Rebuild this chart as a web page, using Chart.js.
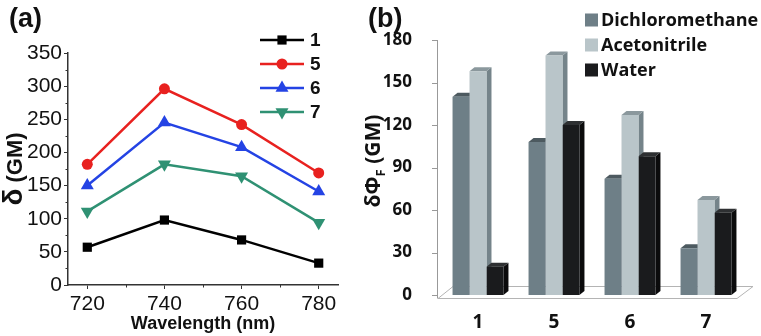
<!DOCTYPE html>
<html>
<head>
<meta charset="utf-8">
<script src="https://cdn.jsdelivr.net/npm/chart.js@4.4.1/dist/chart.umd.min.js"></script>
<style>
  body { margin: 0; background: #fff; }
  .panel { position: absolute; top: 0; height: 336px; }
  #wrapA { left: 0; width: 360px; }
  #wrapB { left: 360px; width: 401px; }
</style>
</head>
<body>
<div class="panel" id="wrapA"><canvas id="twoPhoton"></canvas></div>
<div class="panel" id="wrapB"><canvas id="actionCross"></canvas></div>
<script>
// (a) two-photon cross section vs wavelength
const wavelengths = [720, 740, 760, 780];
const delta1 = [57, 98, 68, 33];
const delta5 = [182, 296, 242, 169];
const delta6 = [150, 245, 208, 141];
const delta7 = [111, 182, 164, 94];
const seriesNames = ['1', '5', '6', '7'];

// (b) action cross section per solvent
const compounds = ['1', '5', '6', '7'];
const dichloromethane = [140, 108, 82, 33];
const acetonitrile = [158, 169, 127, 67];
const water = [20, 120, 98, 58];
const yTicksB = [0, 30, 60, 90, 120, 150, 180];

const arial = 'Arial, "Liberation Sans", sans-serif';
const sansB = '"Open Sans", "DejaVu Sans", sans-serif';

Chart.defaults.animation = false;
Chart.defaults.font.family = arial;
Chart.defaults.color = '#111';

// ---------- panel (a) ----------
const panelA = {
    id: 'panelA',
    afterDraw(chart) {
        const { ctx, chartArea: area, scales } = chart;
        ctx.save();

        // minor ticks
        ctx.strokeStyle = '#333';
        ctx.lineWidth = 1;
        ctx.beginPath();
        for (let v = 25; v < 350; v += 50) {
            const py = Math.round(scales.y.getPixelForValue(v)) + 0.5;
            ctx.moveTo(area.left - 2.5, py);
            ctx.lineTo(area.left, py);
        }
        for (let v = 730; v < 780; v += 20) {
            const px = Math.round(scales.x.getPixelForValue(v)) + 0.5;
            ctx.moveTo(px, area.bottom);
            ctx.lineTo(px, area.bottom + 2.5);
        }
        ctx.stroke();

        // legend: line + marker + label
        const rows = [40, 64, 88, 112];
        chart.data.datasets.forEach((ds, i) => {
            const y = rows[i];
            ctx.strokeStyle = ds.borderColor;
            ctx.lineWidth = 2.5;
            ctx.beginPath();
            ctx.moveTo(260, y);
            ctx.lineTo(304, y);
            ctx.stroke();
            ctx.fillStyle = ds.borderColor;
            Chart.helpers.drawPoint(ctx, {
                pointStyle: ds.pointStyle, radius: ds.pointRadius,
                rotation: ds.pointRotation || 0, borderWidth: 0
            }, 282, y);
            ctx.fillStyle = '#111';
            ctx.font = 'bold 19px ' + arial;
            ctx.textBaseline = 'middle';
            ctx.textAlign = 'left';
            ctx.fillText(ds.label, 310, y + 1);
        });

        // x title
        ctx.fillStyle = '#111';
        ctx.font = 'bold 18px ' + arial;
        ctx.textAlign = 'center';
        ctx.textBaseline = 'middle';
        ctx.fillText('Wavelength (nm)', (area.left + area.right) / 2, 324);

        // panel letter
        ctx.textAlign = 'left';
        ctx.font = 'bold 27px ' + arial;
        ctx.textBaseline = 'alphabetic';
        ctx.fillText('(a)', 9, 27);

        // y title: delta (GM)
        ctx.translate(22, 169);
        ctx.rotate(-Math.PI / 2);
        ctx.font = 'bold 28px ' + arial;
        const wd = ctx.measureText('\u03b4').width;
        ctx.font = 'bold 22px ' + arial;
        const wr = ctx.measureText(' (GM)').width;
        const sx = -(wd + wr) / 2;
        ctx.font = 'bold 28px ' + arial;
        ctx.fillText('\u03b4', sx, 0);
        ctx.font = 'bold 22px ' + arial;
        ctx.fillText(' (GM)', sx + wd, 0);
        ctx.restore();
    }
};

new Chart(document.getElementById('twoPhoton'), {
    type: 'line',
    data: {
        datasets: [
            { label: seriesNames[0], data: wavelengths.map((w, i) => ({ x: w, y: delta1[i] })),
              borderColor: '#000000', pointStyle: 'rect', pointRadius: 6.5 },
            { label: seriesNames[1], data: wavelengths.map((w, i) => ({ x: w, y: delta5[i] })),
              borderColor: '#e8211f', pointStyle: 'circle', pointRadius: 5.5 },
            { label: seriesNames[2], data: wavelengths.map((w, i) => ({ x: w, y: delta6[i] })),
              borderColor: '#2443e4', pointStyle: 'triangle', pointRadius: 7.5 },
            { label: seriesNames[3], data: wavelengths.map((w, i) => ({ x: w, y: delta7[i] })),
              borderColor: '#2f9173', pointStyle: 'triangle', pointRadius: 7.5, pointRotation: 180 }
        ].map(ds => ({ ...ds, borderWidth: 2.5, tension: 0, pointBackgroundColor: ds.borderColor,
                       pointBorderWidth: 0, pointHoverRadius: ds.pointRadius }))
    },
    options: {
        responsive: true,
        maintainAspectRatio: false,
        layout: { padding: { top: 53, right: 22, left: 0, bottom: 0 } },
        scales: {
            x: {
                type: 'linear', min: 715, max: 785,
                afterBuildTicks: s => { s.ticks = wavelengths.map(v => ({ value: v })); },
                afterFit: s => { s.height = 51; },
                grid: { drawOnChartArea: false, tickLength: 4, color: '#333', lineWidth: 1 },
                border: { color: '#333', width: 1.5 },
                ticks: { font: { size: 21 }, padding: 3, color: '#111' }
            },
            y: {
                min: 0, max: 350,
                ticks: { stepSize: 50, font: { size: 21 }, padding: 2, color: '#111' },
                afterFit: s => { s.width = 68; },
                grid: { drawOnChartArea: false, tickLength: 4, color: '#333', lineWidth: 1 },
                border: { color: '#333', width: 1.5 }
            }
        },
        plugins: { legend: { display: false }, tooltip: { enabled: false } }
    },
    plugins: [panelA]
});

// ---------- panel (b) ----------
const depthX = 5, depthY = 4;

function quad(ctx, pts) {
    ctx.beginPath();
    ctx.moveTo(pts[0], pts[1]);
    for (let k = 2; k < pts.length; k += 2) ctx.lineTo(pts[k], pts[k + 1]);
    ctx.closePath();
    ctx.fill();
}

const panelB = {
    id: 'panelB',
    beforeDatasetsDraw(chart) {
        const { ctx, chartArea: area, scales: { y } } = chart;
        const y0 = y.getPixelForValue(0);
        const axisX = area.left - 3;
        ctx.save();

        // floor
        ctx.fillStyle = '#fff';
        ctx.strokeStyle = '#b4b4b4';
        ctx.lineWidth = 1;
        ctx.beginPath();
        ctx.moveTo(axisX + 1, y0 + 3.5);
        ctx.lineTo(area.right - 7, y0 + 3.5);
        ctx.lineTo(area.right + 9, y0 - 8.5);
        ctx.lineTo(axisX + 16, y0 - 8.5);
        ctx.closePath();
        ctx.fill();
        ctx.stroke();

        // y axis line and ticks
        ctx.strokeStyle = '#999';
        ctx.beginPath();
        ctx.moveTo(axisX + 0.5, y.getPixelForValue(180));
        ctx.lineTo(axisX + 0.5, y0 + 3.5);
        y.ticks.forEach(t => {
            const py = Math.round(y.getPixelForValue(t.value)) + 0.5;
            ctx.moveTo(axisX - 5, py);
            ctx.lineTo(axisX + 0.5, py);
        });
        ctx.stroke();

        // side and top faces of the bars
        const metas = chart.getSortedVisibleDatasetMetas();
        compounds.forEach((c, i) => {
            metas.forEach(meta => {
                const bar = meta.data[i];
                const ds = chart.data.datasets[meta.index];
                const x0 = bar.x - bar.width / 2, x1 = bar.x + bar.width / 2;
                ctx.fillStyle = ds.sideColor;
                quad(ctx, [x1, bar.y, x1 + depthX, bar.y - depthY, x1 + depthX, bar.base - depthY, x1, bar.base]);
                ctx.fillStyle = ds.topColor;
                quad(ctx, [x0, bar.y, x1, bar.y, x1 + depthX, bar.y - depthY, x0 + depthX, bar.y - depthY]);
            });
        });
        ctx.restore();
    },
    afterDraw(chart) {
        const { ctx } = chart;
        ctx.save();

        // legend
        const rows = [20, 45, 70];
        chart.data.datasets.forEach((ds, i) => {
            ctx.fillStyle = ds.backgroundColor;
            ctx.fillRect(225, rows[i] - 6.5, 13, 13);
            ctx.fillStyle = '#111';
            ctx.font = 'bold 18px ' + sansB;
            ctx.textBaseline = 'middle';
            ctx.textAlign = 'left';
            ctx.fillText(ds.label, 241, rows[i] + 1);
        });

        // panel letter
        ctx.font = 'bold 27px ' + arial;
        ctx.textBaseline = 'alphabetic';
        ctx.fillText('(b)', 8, 27);

        // y title: delta Phi_F (GM)
        ctx.translate(20, 161);
        ctx.rotate(-Math.PI / 2);
        const main = 'bold 21px ' + sansB, sub = 'bold 13px ' + sansB;
        ctx.font = main;
        const w1 = ctx.measureText('\u03b4\u03a6').width;
        const w3 = ctx.measureText(' (GM)').width;
        ctx.font = sub;
        const w2 = ctx.measureText('F').width;
        const sx = -(w1 + w2 + w3) / 2;
        ctx.font = main;
        ctx.fillText('\u03b4\u03a6', sx, 0);
        ctx.font = sub;
        ctx.fillText('F', sx + w1, 5);
        ctx.font = main;
        ctx.fillText(' (GM)', sx + w1 + w2, 0);
        ctx.restore();
    }
};

new Chart(document.getElementById('actionCross'), {
    type: 'bar',
    data: {
        labels: compounds,
        datasets: [
            { label: 'Dichloromethane', data: dichloromethane,
              backgroundColor: '#6e7f87', sideColor: '#56656c', topColor: '#4d5a60' },
            { label: 'Acetonitrile', data: acetonitrile,
              backgroundColor: '#b9c5c9', sideColor: '#75848a', topColor: '#8b989d' },
            { label: 'Water', data: water,
              backgroundColor: '#1a1b1d', sideColor: '#0b0b0c', topColor: '#2e3032' }
        ]
    },
    options: {
        responsive: true,
        maintainAspectRatio: false,
        categoryPercentage: 0.67,
        barPercentage: 1.0,
        layout: { padding: { top: 40, right: 17, left: 0, bottom: 0 } },
        scales: {
            x: {
                grid: { display: false },
                border: { display: false },
                ticks: { font: { family: sansB, size: 19, weight: 'bold' }, padding: 8, color: '#111' },
                afterFit: s => { s.height = 41; }
            },
            y: {
                min: 0, max: 180,
                afterBuildTicks: s => { s.ticks = yTicksB.map(v => ({ value: v })); },
                grid: { display: false },
                border: { display: false },
                ticks: { font: { family: sansB, size: 17, weight: 'bold' }, padding: 20, color: '#111' },
                afterFit: s => { s.width = 80; }
            }
        },
        plugins: { legend: { display: false }, tooltip: { enabled: false } }
    },
    plugins: [panelB]
});
</script>
</body>
</html>
